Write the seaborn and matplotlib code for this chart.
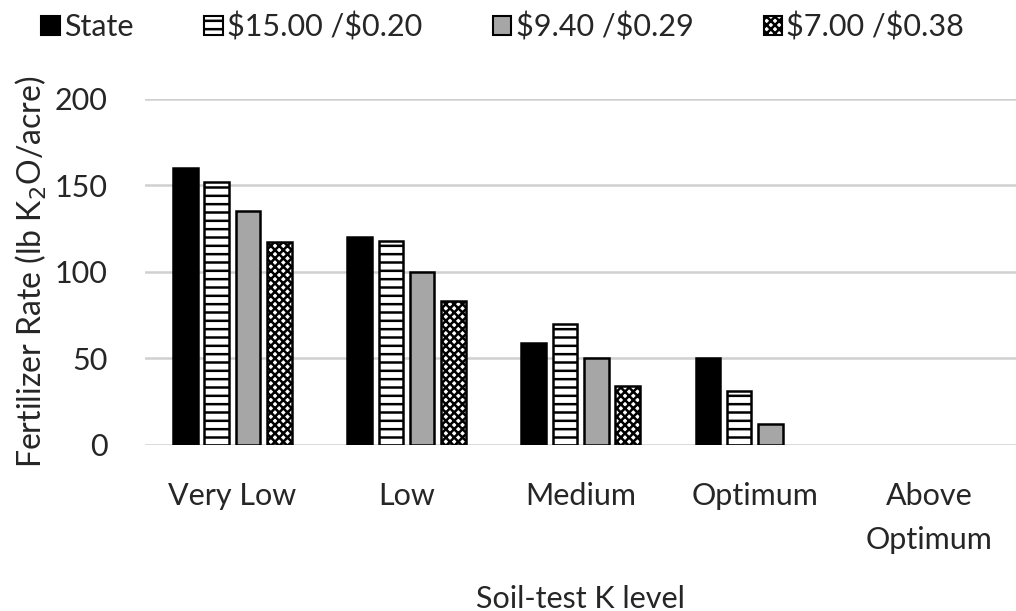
import pandas as pd
import matplotlib
matplotlib.use("Agg")
import matplotlib.pyplot as plt
import seaborn as sns

# values
levels = ["Very Low", "Low", "Medium", "Optimum", "Above\nOptimum"]
series = ["State", "$15.00 /$0.20", "$9.40 /$0.29", "$7.00 /$0.38"]
state = [160, 120, 59, 50, 0]
p1500 = [152, 118, 70, 31, 0]
p940 = [135, 100, 50, 12, 0]
p700 = [117, 83, 34, 0, 0]

rows = []
for name, vals in zip(series, [state, p1500, p940, p700]):
    for lev, v in zip(levels, vals):
        rows.append({"Level": lev, "Series": name, "Rate": v})
df = pd.DataFrame(rows)

sns.set_style("white")
plt.rcParams["font.family"] = ["Lato", "DejaVu Sans"]
plt.rcParams["hatch.linewidth"] = 1.8

fills = ["black", "white", "#a6a6a6", "white"]
hatches = [None, "--", None, "xxxx"]

fig = plt.figure(figsize=(10.16, 6.11), dpi=100)
ax = fig.add_axes([0.143, 0.272, 0.857, 0.566])

sns.barplot(data=df, x="Level", y="Rate", hue="Series", hue_order=series,
            palette=fills, width=0.72, gap=0.22, legend=False, ax=ax,
            edgecolor="black", linewidth=1.8, saturation=1)

for cont, h in zip(ax.containers, hatches):
    for bar in cont:
        if h:
            bar.set_hatch(h)
        if bar.get_height() == 0:
            bar.set_linewidth(0)

fs = 22
ax.set_ylim(0, 200)
ax.set_yticks([0, 50, 100, 150, 200])
ax.grid(axis="y", color="#d0d0d0", linewidth=1.8)
ax.set_axisbelow(True)
for s in ax.spines.values():
    s.set_visible(False)
ax.tick_params(axis="both", length=0, labelsize=fs)
ax.tick_params(axis="y", pad=27)
ax.tick_params(axis="x", pad=27)
for t in ax.get_xticklabels():
    t.set_linespacing(1.7)
ax.set_xlabel("Soil-test K level", fontsize=fs, labelpad=22)
ax.set_ylabel("Fertilizer Rate (lb K$_2$O/acre)", fontsize=fs + 1, labelpad=4)

handles = []
for c, h in zip(fills, hatches):
    handles.append(matplotlib.patches.Patch(facecolor=c, edgecolor="black",
                                            hatch=h, linewidth=1.5))
labels = [s.replace("$", r"\$") for s in series]
fig.legend(handles, labels, loc="upper center", bbox_to_anchor=(0.495, 1.025),
           ncol=4, frameon=False, fontsize=fs, handlelength=0.6,
           handleheight=0.6, handletextpad=0.15, columnspacing=2.3)

fig.savefig("out.png", dpi=100)
